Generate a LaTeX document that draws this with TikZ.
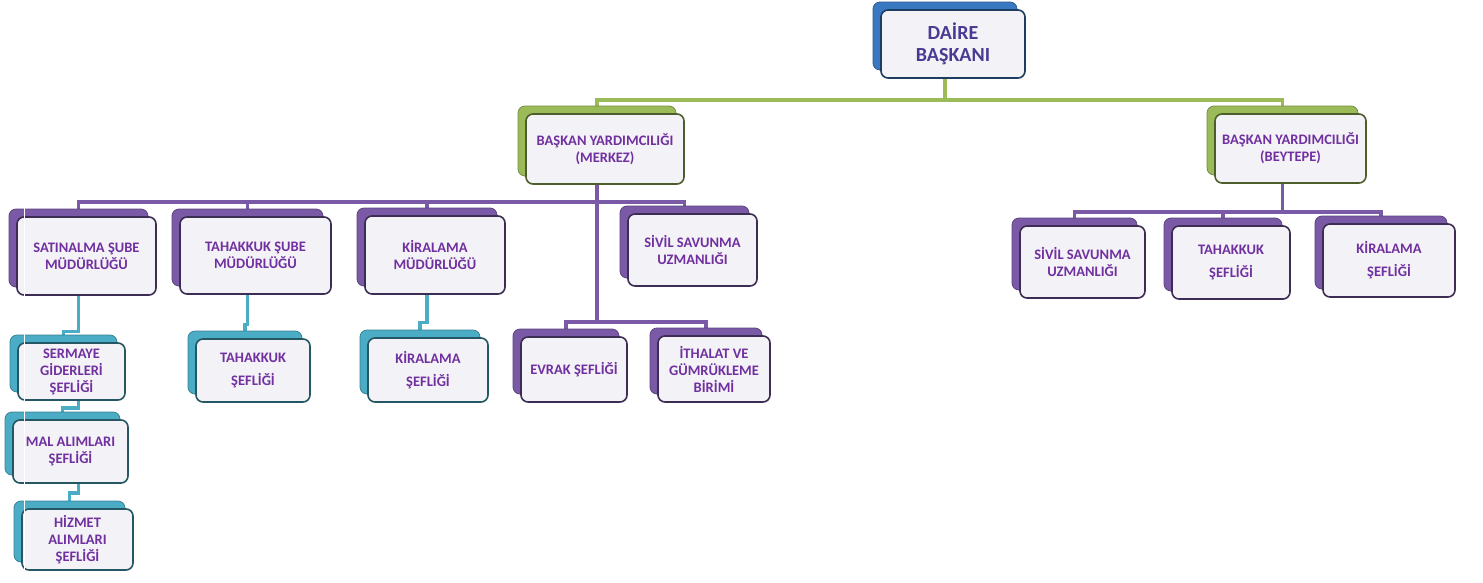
\documentclass[tikz,border=0pt]{standalone}
\usepackage{fontspec}
\setmainfont{Carlito}[BoldFont={Carlito Bold}]
\usetikzlibrary{calc}
\definecolor{cblue}{HTML}{3A78C2}
\definecolor{cgreen}{HTML}{9BBB59}
\definecolor{cpurple}{HTML}{7A59A6}
\definecolor{ccyan}{HTML}{4BACC6}
\definecolor{boxfill}{HTML}{F3F2F6}
\definecolor{txtpurple}{HTML}{7030A0}
\definecolor{txtnavy}{HTML}{4B3A94}
\pgfdeclarelayer{bg}
\pgfsetlayers{bg,main}
\tikzset{
  backbox/.style={fill=#1, draw=#1!75!black, line width=0.8pt, rounded corners=7pt},
  frontbox/.style={fill=boxfill, draw=#1!50!black, line width=1.6pt, rounded corners=7pt,
    align=center, text=txtpurple, font=\bfseries\fontsize{14.5}{17}\selectfont, inner sep=2pt},
  conn/.style={draw=#1, line width=3.4pt},
}
\newcommand\obox[8][]{%
  \node[backbox=#3, minimum width=#6pt, minimum height=#7pt] (#2-b) at ($(#4,#5)+(-8,-8)$) {};
  \node[frontbox=#3, minimum width=#6pt, minimum height=#7pt, #1] (#2) at (#4,#5) {#8};}
\begin{document}
\begin{tikzpicture}[x=1pt,y=-1pt]
\useasboundingbox (0,0) rectangle (1483,582);
% boxes
\obox[text=txtnavy, font=\bfseries\fontsize{20}{22}\selectfont]{daire}{cblue}{953}{44}{144}{68}{DAİRE\\BAŞKANI}
\obox{merkez}{cgreen}{605}{149}{158}{70}{BAŞKAN YARDIMCILIĞI\\(MERKEZ)}
\obox{beytepe}{cgreen}{1290.5}{148.5}{151}{69}{BAŞKAN YARDIMCILIĞI\\(BEYTEPE)}
\obox{satin}{cpurple}{86.5}{256}{139}{78}{SATINALMA ŞUBE\\MÜDÜRLÜĞÜ}
\obox{tahsube}{cpurple}{255.5}{255.5}{151}{77}{TAHAKKUK ŞUBE\\MÜDÜRLÜĞÜ}
\obox{kiramud}{cpurple}{435}{255}{140}{78}{KİRALAMA\\MÜDÜRLÜĞÜ}
\obox{sivil}{cpurple}{692.5}{250}{129}{72}{SİVİL SAVUNMA\\UZMANLIĞI}
\obox{sermaye}{ccyan}{71.5}{371.5}{107}{57}{SERMAYE\\GİDERLERİ\\ŞEFLİĞİ}
\obox{mal}{ccyan}{70.5}{451.5}{115}{63}{MAL ALIMLARI\\ŞEFLİĞİ}
\obox{hizmet}{ccyan}{77.5}{539.5}{111}{61}{HİZMET\\ALIMLARI\\ŞEFLİĞİ}
\obox{tahsef}{ccyan}{253}{370.5}{114}{63}{TAHAKKUK\\[6pt]ŞEFLİĞİ}
\obox{kirasef}{ccyan}{428}{370}{120}{64}{KİRALAMA\\[6pt]ŞEFLİĞİ}
\obox{evrak}{cpurple}{574}{369.5}{106}{65}{EVRAK ŞEFLİĞİ}
\obox{ithalat}{cpurple}{714}{369}{112}{66}{İTHALAT VE\\GÜMRÜKLEME\\BİRİMİ}
\obox{sivilb}{cpurple}{1082.5}{262}{125}{72}{SİVİL SAVUNMA\\UZMANLIĞI}
\obox{tahsefb}{cpurple}{1231}{262.5}{118}{73}{TAHAKKUK\\[6pt]ŞEFLİĞİ}
\obox{kirasefb}{cpurple}{1389}{260.5}{132}{73}{KİRALAMA\\[6pt]ŞEFLİĞİ}
% bus coordinates
\coordinate (gbus) at (0,100);
\coordinate (pbus) at (0,202);
\coordinate (pbus2) at (0,322);
\coordinate (bbus) at (0,212);
\begin{pgfonlayer}{bg}
\draw[conn=cgreen] (daire-b.south) -- (daire-b.south |- gbus) -| (merkez-b.north);
\draw[conn=cgreen] (daire-b.south |- gbus) -| (beytepe-b.north);
\draw[conn=cpurple] (merkez-b.south) -- (merkez-b.south |- pbus) -| (satin-b.north);
\draw[conn=cpurple] (merkez-b.south |- pbus) -| (sivil-b.north);
\draw[conn=cpurple] (tahsube-b.north |- pbus) -- (tahsube-b.north);
\draw[conn=cpurple] (kiramud-b.north |- pbus) -- (kiramud-b.north);
\draw[conn=cpurple] (merkez-b.south) -- (merkez-b.south |- pbus2) -| (evrak-b.north);
\draw[conn=cpurple] (merkez-b.south |- pbus2) -| (ithalat-b.north);
\draw[conn=cpurple] (beytepe-b.south) -- (beytepe-b.south |- bbus) -| (sivilb-b.north);
\draw[conn=cpurple] (beytepe-b.south |- bbus) -| (kirasefb-b.north);
\draw[conn=cpurple] (tahsefb-b.north |- bbus) -- (tahsefb-b.north);
\draw[conn=ccyan] (satin-b.south) -- ++(0,44) -| (sermaye-b.north);
\draw[conn=ccyan] (sermaye.south -| satin-b.south) -- ++(0,7) -| (mal-b.north);
\draw[conn=ccyan] (mal.south -| satin-b.south) -- ++(0,9) -| (hizmet-b.north);
\draw[conn=ccyan] (tahsube-b.south) -- ++(0,38) -| (tahsef-b.north);
\draw[conn=ccyan] (kiramud-b.south) -- ++(0,36) -| (kirasef-b.north);
\end{pgfonlayer}
% thin white vertical streak
\coordinate (wtop) at (24,208);
\coordinate (wbot) at (24,580);
\draw[white, line width=1pt] (wtop) -- (wbot);
\end{tikzpicture}
\end{document}
